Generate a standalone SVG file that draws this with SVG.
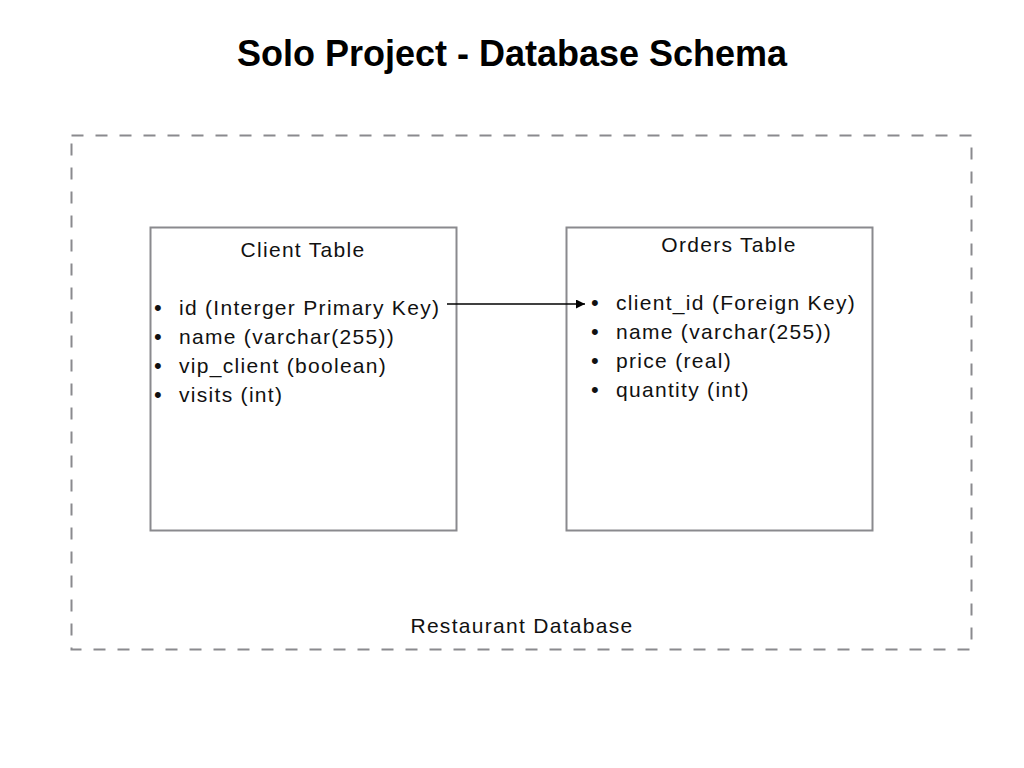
<svg xmlns="http://www.w3.org/2000/svg" width="1024" height="768" viewBox="0 0 1024 768">
<style>
.t{font-family:"Liberation Sans",Arial,sans-serif;font-size:21px;letter-spacing:1.3px;fill:#111}
.b{font-family:"Liberation Sans",Arial,sans-serif;font-size:22px;fill:#111}
.title{font-family:"Liberation Sans",Arial,sans-serif;font-size:36px;font-weight:bold;fill:#000}
.box{fill:#fff;stroke:#8a8a8e;stroke-width:2}
.grp{fill:none;stroke:#8a8a8e;stroke-width:2;stroke-dasharray:12 12}
.conn{stroke:#000;stroke-width:1.5;fill:none}
</style>
<defs>
<marker id="arr" viewBox="0 0 10 10" refX="10" refY="5" markerWidth="10" markerHeight="9" markerUnits="userSpaceOnUse" orient="auto"><path d="M0,0L10,5L0,10z" fill="#000"/></marker>
</defs>
<rect width="1024" height="768" fill="#fff"/>
<text class="title" x="512" y="66" text-anchor="middle">Solo Project - Database Schema</text>
<g id="restaurant-db">
<rect class="grp" x="71.5" y="135.5" width="900" height="514"/>
<text class="t" x="522" y="633" text-anchor="middle">Restaurant Database</text>
</g>
<g id="client-table">
<rect class="box" x="150.5" y="227.5" width="306" height="303"/>
<text class="t" x="303" y="257" text-anchor="middle">Client Table</text>
<text class="b" x="154" y="315">•</text><text class="t" x="179" y="315">id (Interger Primary Key)</text>
<text class="b" x="154" y="344">•</text><text class="t" x="179" y="344">name (varchar(255))</text>
<text class="b" x="154" y="373">•</text><text class="t" x="179" y="373">vip_client (boolean)</text>
<text class="b" x="154" y="402">•</text><text class="t" x="179" y="402">visits (int)</text>
</g>
<g id="orders-table">
<rect class="box" x="566.5" y="227.5" width="306" height="303"/>
<text class="t" x="729" y="252" text-anchor="middle">Orders Table</text>
<text class="b" x="591" y="310">•</text><text class="t" x="616" y="310">client_id (Foreign Key)</text>
<text class="b" x="591" y="339">•</text><text class="t" x="616" y="339">name (varchar(255))</text>
<text class="b" x="591" y="368">•</text><text class="t" x="616" y="368">price (real)</text>
<text class="b" x="591" y="397">•</text><text class="t" x="616" y="397">quantity (int)</text>
</g>
<g id="connectors">
<line class="conn" x1="447" y1="304" x2="585" y2="304" marker-end="url(#arr)"/>
</g>
</svg>
